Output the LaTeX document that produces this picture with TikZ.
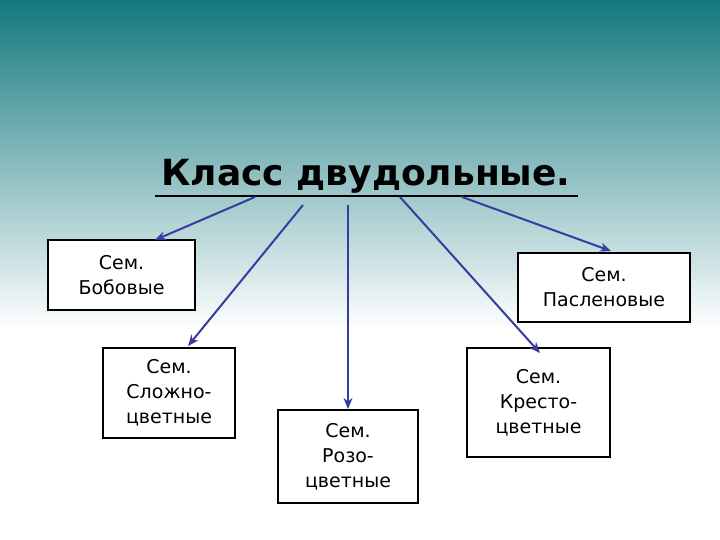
\documentclass[tikz,border=0pt]{standalone}
\usepackage{fontspec}
\usetikzlibrary{arrows.meta}
\setmainfont{DejaVu Sans}
\definecolor{topteal}{RGB}{20,120,125}
\definecolor{arr}{RGB}{55,60,160}
\begin{document}
\begin{tikzpicture}[x=1pt,y=-1pt,
  box/.style={draw=black,line width=2.2pt,fill=white,align=center,font=\fontsize{19}{25}\selectfont,inner sep=0pt},
  link/.style={draw=arr,line width=2pt,-{Stealth[length=11pt,width=9pt]}}]
\useasboundingbox (0,0) rectangle (720,540);
\fill[white] (0,0) rectangle (720,540);
\shade[top color=topteal,bottom color=white] (0,0) rectangle (720,330);
\node (title) at (366,176) {\fontsize{36}{42}\selectfont\bfseries Класс двудольные.};
\draw[line width=2pt] (155,196) -- (578,196);
\node[box,minimum width=147pt,minimum height=70pt] (bob) at (121.5,275) {Сем.\\Бобовые};
\node[box,minimum width=172pt,minimum height=69pt] (pas) at (604,287.5) {Сем.\\Пасленовые};
\node[box,minimum width=132pt,minimum height=90pt] (slo) at (169,393) {Сем.\\Сложно-\\цветные};
\node[box,minimum width=140pt,minimum height=93pt] (roz) at (348,456.5) {Сем.\\Розо-\\цветные};
\node[box,minimum width=143pt,minimum height=109pt] (kre) at (538.5,402.5) {Сем.\\Кресто-\\цветные};
\coordinate (s1) at (255,197);
\coordinate (s2) at (303,205);
\coordinate (s3) at (348,205);
\coordinate (s4) at (400,197);
\coordinate (s5) at (462,197);
\coordinate (e1) at (155,240);
\coordinate (e2) at (188,346);
\coordinate (e3) at (348,409);
\coordinate (e4) at (540,353);
\coordinate (e5) at (611,251);
\draw[link] (s1) -- (e1);
\draw[link] (s2) -- (e2);
\draw[link] (s3) -- (e3);
\draw[link] (s4) -- (e4);
\draw[link] (s5) -- (e5);
\end{tikzpicture}
\end{document}
